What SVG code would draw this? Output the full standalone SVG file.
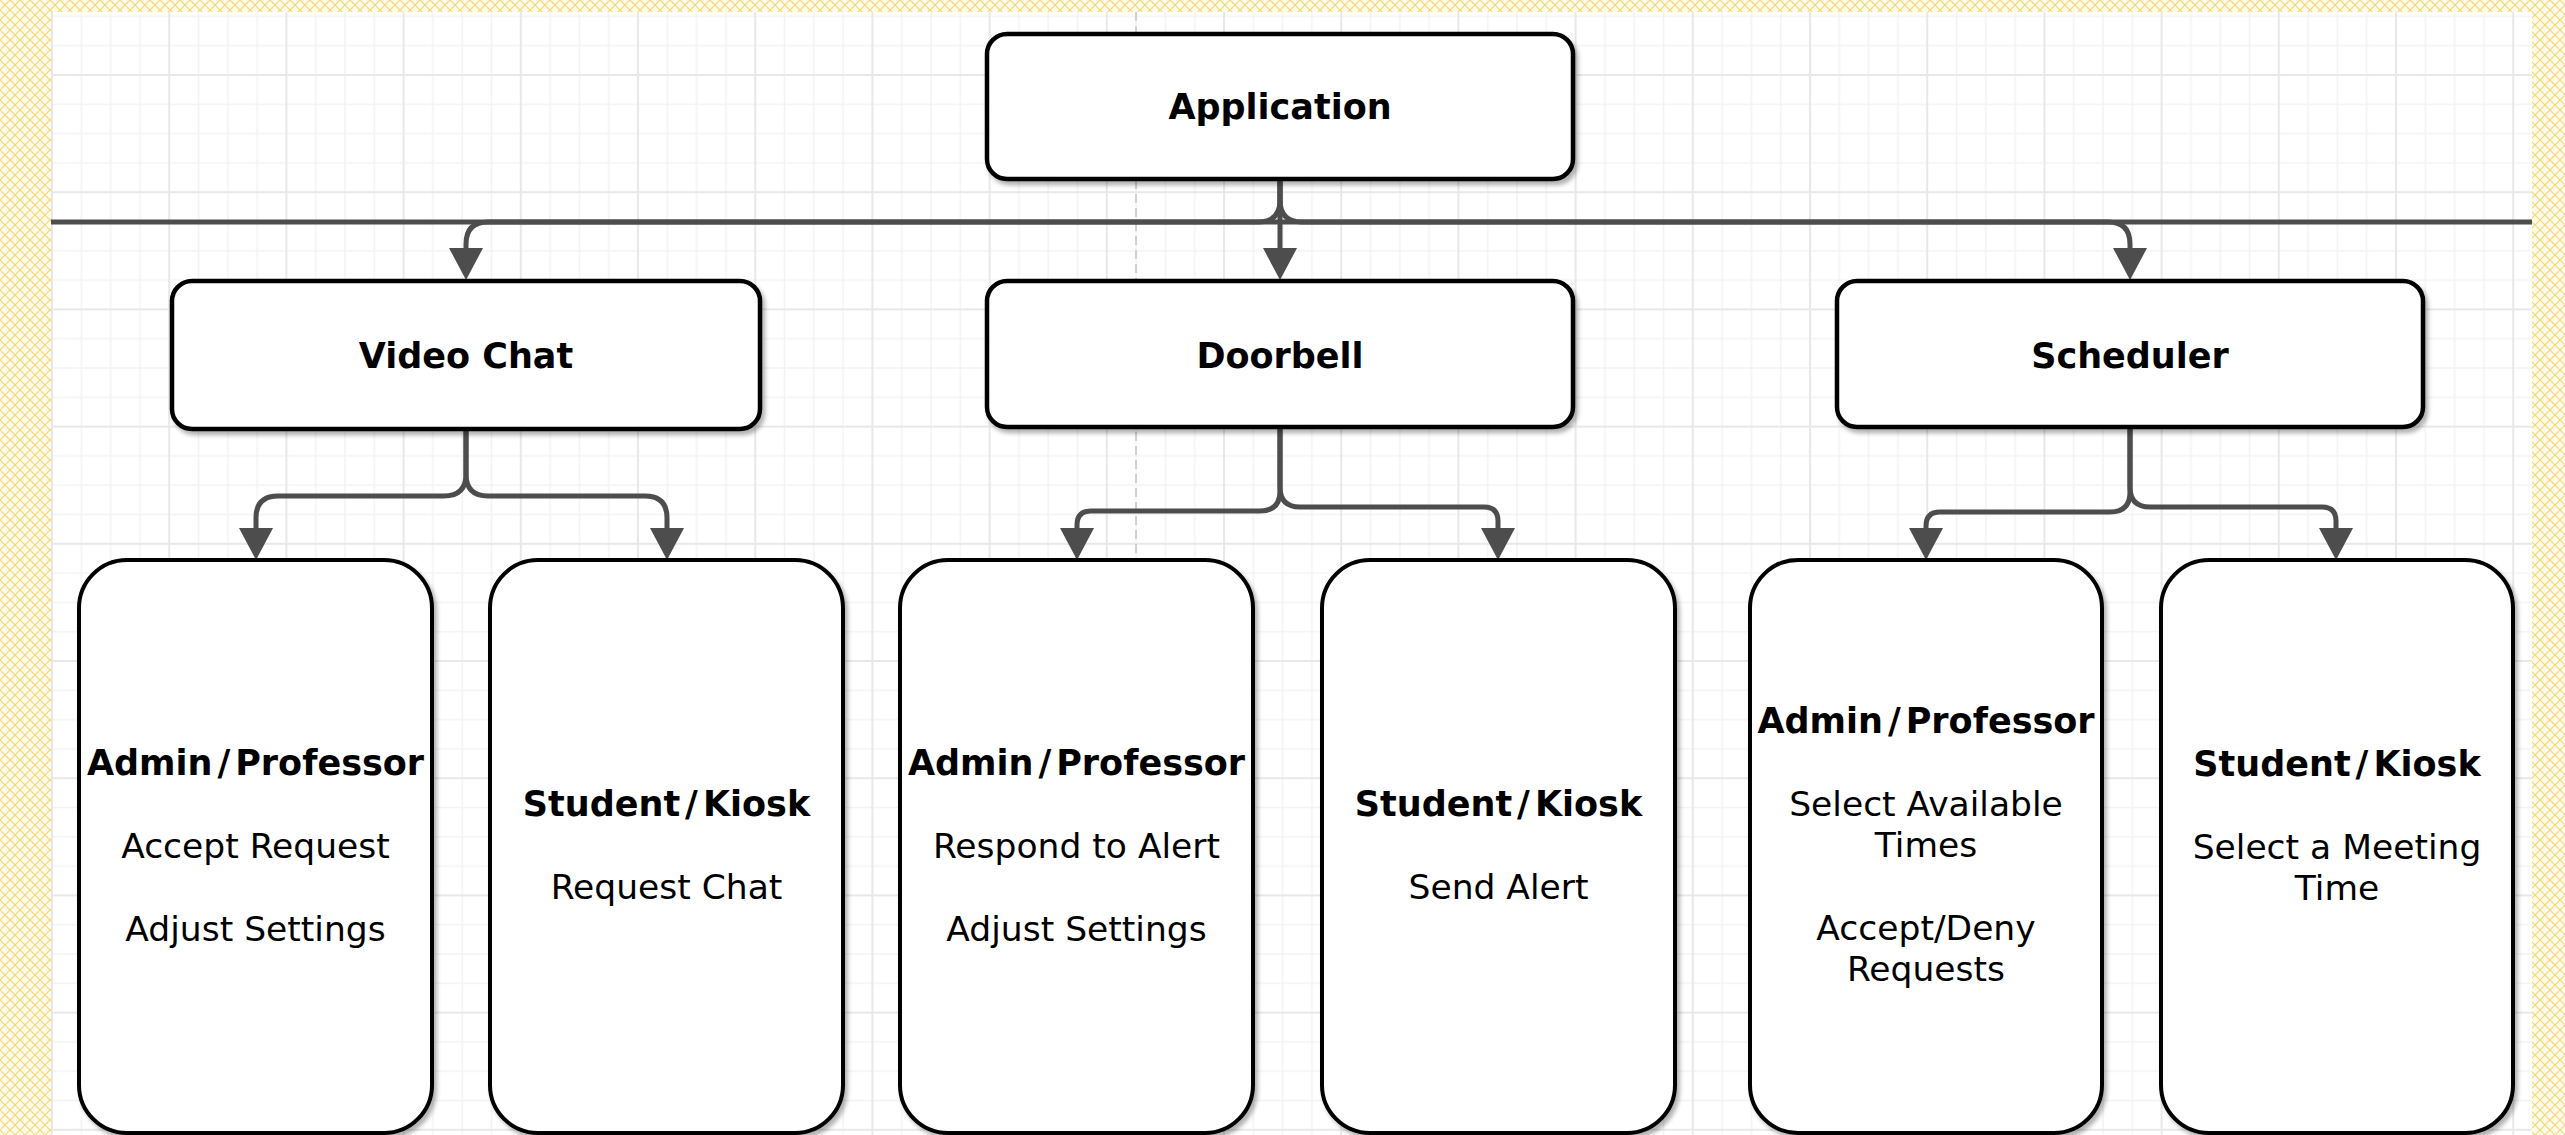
<svg xmlns="http://www.w3.org/2000/svg" width="2565" height="1135" viewBox="0 0 2565 1135">
<defs>
<pattern id="hatch" width="10" height="10" patternUnits="userSpaceOnUse">
<rect width="10" height="10" fill="#fffbea"/>
<path d="M0,0 L10,10 M10,0 L0,10" stroke="#f3d878" stroke-width="1.2"/>
</pattern>
<pattern id="grid" x="51" y="-43.2" width="117.2" height="117.2" patternUnits="userSpaceOnUse">
<rect width="117.2" height="117.2" fill="#ffffff"/>
<path d="M30.3,0 V117.2 M59.6,0 V117.2 M88.9,0 V117.2 M0,30.3 H117.2 M0,59.6 H117.2 M0,88.9 H117.2" stroke="#f3f3f3" stroke-width="1.5"/>
<path d="M1,0 V117.2 M0,1 H117.2" stroke="#e8e8e8" stroke-width="2"/>
</pattern>
<filter id="shadow" x="-10%" y="-10%" width="130%" height="130%">
<feDropShadow dx="3" dy="4" stdDeviation="2" flood-color="#000" flood-opacity="0.3"/>
</filter>
<marker id="arrow" markerUnits="userSpaceOnUse" viewBox="0 0 32 34" markerWidth="32" markerHeight="34" refX="0" refY="17" orient="auto">
<path d="M0,0 L32,17 L0,34 Z" fill="#4d4d4d"/>
</marker>
</defs>
<style>
.top rect { fill:#ffffff; stroke:#000000; stroke-width:4.5; filter:url(#shadow); }
.leaf rect { fill:#ffffff; stroke:#000000; stroke-width:4; filter:url(#shadow); }
text { font-family:"DejaVu Sans", Verdana, sans-serif; fill:#000000; text-anchor:middle; }
.b { font-weight:bold; font-size:35px; }
.r { font-size:34.5px; }
.edge { fill:none; stroke:#4d4d4d; stroke-width:5; marker-end:url(#arrow); }
</style>

<g id="background">
<rect x="0" y="0" width="2565" height="1135" fill="url(#hatch)"/>
<rect x="51" y="12" width="2481" height="1123" fill="url(#grid)"/>
<line x1="1136" y1="12" x2="1136" y2="1135" stroke="#c4c4c4" stroke-width="1.5" stroke-dasharray="9 5"/>
<line x1="51" y1="222" x2="2532" y2="222" stroke="#4d4d4d" stroke-width="5"/>
</g>

<g id="connectors">
<path class="edge" d="M1280,179 V200 Q1280,222 1258,222 H488 Q466,222 466,244 V248"/>
<path class="edge" d="M1280,179 V248"/>
<path class="edge" d="M1280,179 V200 Q1280,222 1302,222 H2108 Q2130,222 2130,244 V248"/>
<path class="edge" d="M466,430 V474 Q466,496 444,496 H278 Q256,496 256,518 V528"/>
<path class="edge" d="M466,430 V474 Q466,496 488,496 H645 Q667,496 667,518 V528"/>
<path class="edge" d="M1280,427 V491 Q1280,511 1260,511 H1091 Q1077,511 1077,525 V528"/>
<path class="edge" d="M1280,427 V487 Q1280,507 1300,507 H1484 Q1498,507 1498,521 V528"/>
<path class="edge" d="M2130,427 V492 Q2130,512 2110,512 H1940 Q1926,512 1926,526 V528"/>
<path class="edge" d="M2130,427 V487 Q2130,507 2150,507 H2322 Q2336,507 2336,521 V528"/>
</g>

<g id="application" class="top">
<rect x="987" y="34" width="586" height="145" rx="20" ry="20"/>
<text class="b" x="1280" y="119">Application</text>
</g>
<g id="video-chat" class="top">
<rect x="172" y="281" width="588" height="148" rx="20" ry="20"/>
<text class="b" x="466" y="368">Video Chat</text>
</g>
<g id="doorbell" class="top">
<rect x="987" y="281" width="586" height="146" rx="20" ry="20"/>
<text class="b" x="1280" y="368">Doorbell</text>
</g>
<g id="scheduler" class="top">
<rect x="1837" y="281" width="586" height="146" rx="20" ry="20"/>
<text class="b" x="2130" y="368">Scheduler</text>
</g>

<g id="vc-admin" class="leaf">
<rect x="79" y="560" width="353" height="573" rx="48" ry="48"/>
<text class="b" x="255.5" y="775">Admin<tspan dx="5">/</tspan><tspan dx="5">Professor</tspan></text>
<text class="r" x="255.5" y="858">Accept Request</text>
<text class="r" x="255.5" y="941">Adjust Settings</text>
</g>
<g id="vc-student" class="leaf">
<rect x="490" y="560" width="353" height="573" rx="48" ry="48"/>
<text class="b" x="666.5" y="816">Student<tspan dx="5">/</tspan><tspan dx="5">Kiosk</tspan></text>
<text class="r" x="666.5" y="899">Request Chat</text>
</g>
<g id="db-admin" class="leaf">
<rect x="900" y="560" width="353" height="573" rx="48" ry="48"/>
<text class="b" x="1076.5" y="775">Admin<tspan dx="5">/</tspan><tspan dx="5">Professor</tspan></text>
<text class="r" x="1076.5" y="858">Respond to Alert</text>
<text class="r" x="1076.5" y="941">Adjust Settings</text>
</g>
<g id="db-student" class="leaf">
<rect x="1322" y="560" width="353" height="573" rx="48" ry="48"/>
<text class="b" x="1498.5" y="816">Student<tspan dx="5">/</tspan><tspan dx="5">Kiosk</tspan></text>
<text class="r" x="1498.5" y="899">Send Alert</text>
</g>
<g id="sc-admin" class="leaf">
<rect x="1750" y="560" width="352" height="573" rx="48" ry="48"/>
<text class="b" x="1926" y="733">Admin<tspan dx="5">/</tspan><tspan dx="5">Professor</tspan></text>
<text class="r" x="1926" y="816">Select Available</text>
<text class="r" x="1926" y="857">Times</text>
<text class="r" x="1926" y="940">Accept/Deny</text>
<text class="r" x="1926" y="981">Requests</text>
</g>
<g id="sc-student" class="leaf">
<rect x="2161" y="560" width="352" height="573" rx="48" ry="48"/>
<text class="b" x="2337" y="776">Student<tspan dx="5">/</tspan><tspan dx="5">Kiosk</tspan></text>
<text class="r" x="2337" y="859">Select a Meeting</text>
<text class="r" x="2337" y="900">Time</text>
</g>
</svg>
